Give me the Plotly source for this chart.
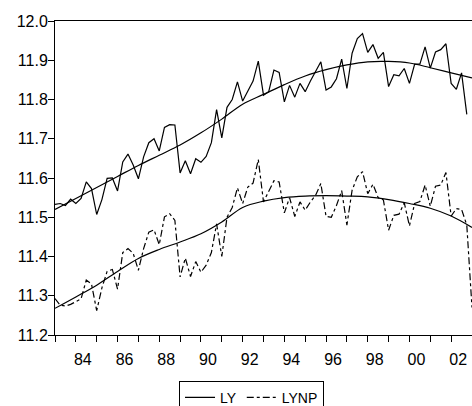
import plotly.graph_objects as go

# Quarterly observations, 1983Q1 onward
start_year = 1983
ly = [11.533, 11.535, 11.530, 11.546, 11.535, 11.548, 11.590, 11.573, 11.507, 11.545,
      11.599, 11.600, 11.567, 11.641, 11.661, 11.633, 11.598, 11.654, 11.690, 11.700,
      11.669, 11.729, 11.736, 11.735, 11.613, 11.644, 11.611, 11.649, 11.640, 11.655,
      11.690, 11.774, 11.702, 11.780, 11.800, 11.845, 11.796, 11.820, 11.847, 11.898,
      11.811, 11.820, 11.875, 11.869, 11.794, 11.836, 11.806, 11.841, 11.820, 11.847,
      11.870, 11.896, 11.824, 11.832, 11.853, 11.903, 11.828, 11.918, 11.955, 11.968,
      11.920, 11.940, 11.905, 11.920, 11.833, 11.863, 11.860, 11.879, 11.841, 11.890,
      11.890, 11.934, 11.880, 11.921, 11.927, 11.942, 11.841, 11.826, 11.868, 11.762]
lynp = [11.293, 11.276, 11.274, 11.278, 11.285, 11.292, 11.340, 11.330, 11.262, 11.320,
        11.362, 11.367, 11.317, 11.410, 11.420, 11.408, 11.365, 11.420, 11.462, 11.468,
        11.430, 11.501, 11.509, 11.492, 11.348, 11.396, 11.349, 11.387, 11.360, 11.378,
        11.410, 11.483, 11.400, 11.500, 11.525, 11.575, 11.535, 11.577, 11.587, 11.647,
        11.539, 11.565, 11.593, 11.590, 11.511, 11.550, 11.502, 11.539, 11.518, 11.539,
        11.556, 11.586, 11.502, 11.500, 11.530, 11.568, 11.480, 11.569, 11.603, 11.616,
        11.560, 11.584, 11.550, 11.544, 11.467, 11.505, 11.508, 11.537, 11.478, 11.535,
        11.540, 11.582, 11.528, 11.579, 11.582, 11.614, 11.503, 11.522, 11.520, 11.480,
        11.270]
# Smooth trends, read once a year (every 4th quarter)
trend_years = list(range(1983, 2004))
ly_trend = [11.520, 11.548, 11.576, 11.604, 11.632, 11.658, 11.684, 11.715, 11.750, 11.788,
            11.813, 11.838, 11.860, 11.876, 11.888, 11.896, 11.897, 11.893, 11.881, 11.868,
            11.855]
lynp_trend = [11.268, 11.297, 11.327, 11.362, 11.395, 11.418, 11.437, 11.458, 11.488, 11.525,
              11.541, 11.550, 11.554, 11.555, 11.554, 11.552, 11.545, 11.535, 11.523, 11.503,
              11.474]
tick_years = list(range(1983, 2003))
tick_text = ["" if y % 2 else "%02d" % (y % 100) for y in tick_years]
y_ticks = [11.2, 11.3, 11.4, 11.5, 11.6, 11.7, 11.8, 11.9, 12.0]

x_ly = [start_year + i / 4 for i in range(len(ly))]
x_lynp = [start_year + i / 4 for i in range(len(lynp))]

FONT = "Arial, Liberation Sans, sans-serif"
fig = go.Figure()
fig.add_trace(go.Scatter(x=x_ly, y=ly, mode="lines", name="LY",
                         line=dict(color="black", width=1.2)))
fig.add_trace(go.Scatter(x=x_lynp, y=lynp, mode="lines", name="LYNP",
                         line=dict(color="black", width=1.2, dash="7px,3px,3px,3px")))
fig.add_trace(go.Scatter(x=trend_years, y=ly_trend, mode="lines", showlegend=False,
                         line=dict(color="black", width=1.2, shape="spline", smoothing=1)))
fig.add_trace(go.Scatter(x=trend_years, y=lynp_trend, mode="lines", showlegend=False,
                         line=dict(color="black", width=1.2, shape="spline", smoothing=1)))

fig.update_layout(
    width=472, height=406,
    margin=dict(l=55, r=0, t=21, b=71, autoexpand=False),
    paper_bgcolor="white", plot_bgcolor="white",
    font=dict(family=FONT, size=16, color="black"),
    showlegend=True,
    legend=dict(orientation="h", x=0.2974, xanchor="left", y=-0.1455, yanchor="top",
                bordercolor="black", borderwidth=1, font=dict(size=14, family=FONT),
                bgcolor="white"),
)
fig.update_xaxes(range=[1983, 2003], tickmode="array", tickvals=tick_years, ticktext=tick_text,
                 ticks="outside", ticklen=6, tickwidth=1, tickcolor="black",
                 showline=True, linecolor="black", linewidth=1, mirror=True,
                 showgrid=False, zeroline=False, ticklabelshift=7, ticklabelstandoff=4,
                 tickfont=dict(size=16, family=FONT))
fig.update_yaxes(range=[11.2, 12.0], tickmode="array", tickvals=y_ticks,
                 ticktext=["%.1f" % v for v in y_ticks],
                 ticks="outside", ticklen=6, tickwidth=1, tickcolor="black",
                 showline=True, linecolor="black", linewidth=1, mirror=False,
                 showgrid=False, zeroline=False, ticklabelstandoff=-3,
                 tickfont=dict(size=16, family=FONT))

fig.write_html("out.html", config={"displayModeBar": False},
               post_script="document.body.style.margin='0';document.body.style.overflow='hidden';")
